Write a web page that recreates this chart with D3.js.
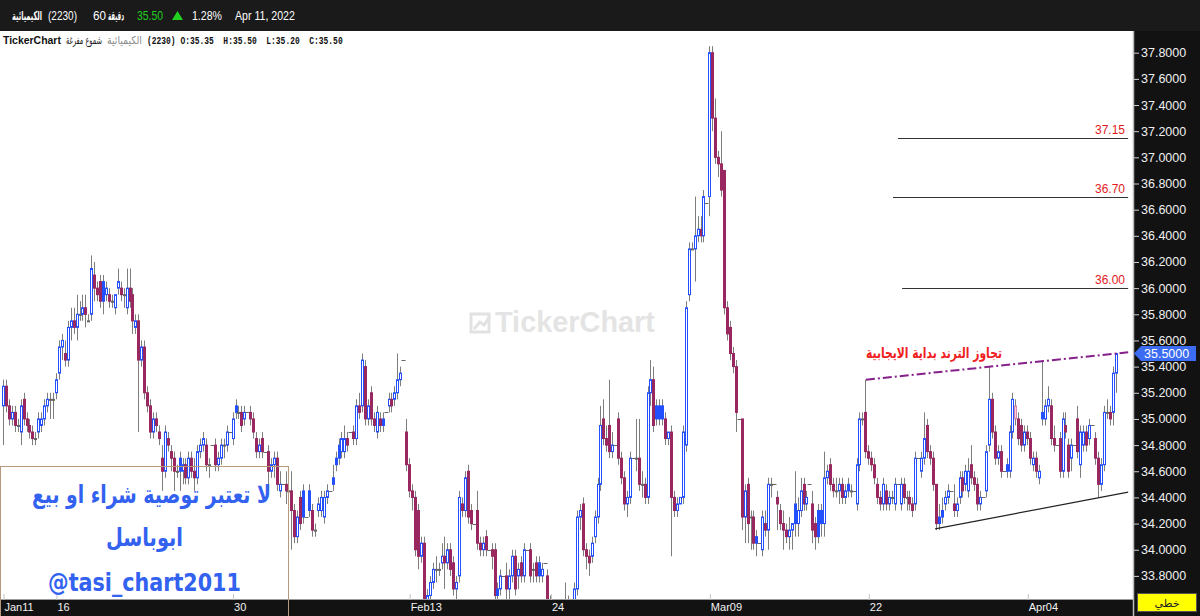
<!DOCTYPE html>
<html><head><meta charset="utf-8">
<script src="https://cdn.jsdelivr.net/npm/d3@7/dist/d3.min.js"></script>
<style>html,body{margin:0;padding:0;background:#fff;overflow:hidden}</style>
</head><body>
<svg id="c" width="1200" height="616"></svg>
<script>
// ---------------- DATA (60-minute bars, Jan 11 – Apr 11, 2022) ----------------
const opens = [
35.10,35.25,35.10,35.00,35.05,34.95, 34.90,35.15,35.00,34.95,34.90,34.85, 34.90,34.95,35.00,35.10,35.15,35.15,
35.20,35.35,35.55,35.50,35.45,35.70, 35.75,35.70,35.80,35.80,35.85,35.75, 35.80,36.10,36.00,36.05,36.05,35.95,
35.95,35.90,35.85,36.00,36.00,35.95, 35.85,36.00,35.95,35.70,35.75,35.45, 35.55,35.20,35.10,34.90,35.00,34.90,
34.70,34.60,34.85,34.75,34.70,34.60, 34.70,34.60,34.65,34.55,34.70,34.60, 34.55,34.75,34.80,34.80,34.65,34.80,
34.80,34.65,34.70,34.80,34.80,34.90, 34.85,35.10,35.05,35.05,35.00,35.05, 35.05,35.00,34.85,34.75,34.85,34.75,
34.75,34.60,34.65,34.70,34.45,34.50, 34.50,34.45,34.45,34.30,34.10,34.40, 34.45,34.25,34.45,34.30,34.15,34.30,
34.30,34.25,34.40,34.45,34.55,34.70, 34.80,34.75,34.75,34.85,34.90,34.90, 34.85,35.10,35.10,35.40,35.00,35.20,
35.00,34.90,35.00,35.00,35.05,35.10, 35.15,35.15,35.20,35.30,35.45,34.90, 34.65,34.45,34.40,34.30,33.95,34.05,
33.60,33.65,33.75,33.85,33.85,33.90, 33.95,33.90,34.00,33.90,33.70,33.80, 34.35,34.30,34.60,34.30,34.20,34.30,
34.05,34.00,34.10,34.00,34.00,34.00, 33.70,33.70,33.80,33.80,33.70,33.80, 33.95,33.80,33.90,33.80,34.00,34.00,
33.85,33.90,33.90,33.80,33.90,33.80, 33.60,33.45,33.50,33.45,33.40,33.45, 33.55,33.50,33.55,33.70,34.25,34.35,
34.00,33.95,33.95,34.10,34.25,34.50, 35.00,34.85,34.95,34.75,34.80,35.00, 34.70,34.55,34.35,34.40,34.70,34.70,
34.70,34.50,34.50,34.40,35.20,35.30, 35.10,35.10,35.10,35.00,34.85,34.90, 34.40,34.30,34.35,34.40,34.80,35.95,
36.30,36.30,36.40,36.45,36.40,36.65, 36.70,37.80,37.30,37.00,36.95,36.90, 35.85,35.70,35.50,35.40,35.00,35.00,
34.25,34.50,34.25,34.25,34.10,34.05, 34.00,34.20,34.15,34.50,34.50,34.40, 34.30,34.20,34.15,34.10,34.15,34.35,
34.20,34.30,34.50,34.35,34.50,34.35, 34.20,34.30,34.30,34.20,34.55,34.65, 34.50,34.45,34.45,34.50,34.40,34.50,
34.45,34.45,34.35,34.65,35.00,35.05, 34.75,34.70,34.65,34.50,34.40,34.35, 34.45,34.35,34.40,34.35,34.50,34.35,
34.50,34.40,34.40,34.35,34.35,34.70, 34.60,34.70,34.95,34.75,34.70,34.50, 34.25,34.30,34.35,34.40,34.45,34.35,
34.30,34.40,34.55,34.50,34.45,34.65, 34.55,34.50,34.35,34.40,34.45,34.80, 35.15,34.90,34.70,34.75,34.60,34.65,
34.60,34.90,35.00,35.00,34.95,34.80, 34.90,34.85,34.65,34.70,34.55,35.05, 35.00,35.10,35.10,34.85,34.80,34.85,
34.60,34.95,34.80,34.70,34.80,35.00, 34.65,34.80,34.90,34.85,34.95,34.85, 34.70,34.50,34.65,35.05,35.05,35.05,
35.35];
const highs = [
35.30,35.30,35.15,35.10,35.10,35.00, 35.15,35.20,35.05,35.00,34.95,34.90, 35.05,35.05,35.15,35.20,35.20,35.20,
35.35,35.60,35.65,35.60,35.75,35.85, 35.85,35.95,35.90,35.95,35.95,35.80, 36.25,36.20,36.05,36.10,36.10,36.05,
36.00,35.95,35.95,36.15,36.05,36.00, 36.15,36.15,36.00,35.80,35.80,35.60, 35.60,35.25,35.15,35.05,35.05,34.95,
34.80,34.95,34.90,34.80,34.75,34.65, 34.75,34.70,34.70,34.75,34.75,34.70, 34.80,34.85,34.90,34.85,34.70,34.80,
34.85,34.75,34.85,34.85,34.95,34.90, 35.05,35.15,35.10,35.10,35.10,35.05, 35.10,35.05,34.90,34.85,34.90,34.75,
34.80,34.70,34.75,34.75,34.60,34.50, 34.60,34.60,34.60,34.35,34.30,34.45, 34.50,34.25,34.50,34.35,34.20,34.40,
34.45,34.45,34.50,34.45,34.65,34.75, 34.85,34.90,34.95,34.90,34.90,34.95, 35.15,35.20,35.50,35.45,35.15,35.25,
35.05,35.10,35.05,35.05,35.05,35.20, 35.20,35.25,35.50,35.40,35.45,35.00, 34.70,34.50,34.45,34.35,34.10,34.10,
33.70,33.80,33.90,33.95,33.90,34.05, 34.10,34.05,34.05,33.95,33.80,34.45, 34.40,34.60,34.65,34.35,34.20,34.45,
34.10,34.10,34.15,34.00,34.05,34.05, 33.75,33.85,33.80,33.90,33.85,34.00, 34.00,33.90,33.95,34.05,34.00,34.05,
33.90,33.95,33.95,33.90,33.90,33.85, 33.65,33.55,33.60,33.55,33.50,33.75, 33.65,33.60,33.75,34.30,34.35,34.40,
34.05,34.00,34.10,34.30,34.55,35.10, 35.15,34.95,35.30,34.90,34.80,35.05, 34.75,34.60,34.45,34.75,34.70,35.00,
35.00,34.60,34.55,35.25,35.45,35.40, 35.15,35.15,35.15,35.05,34.90,34.95, 34.45,34.40,34.40,34.95,35.90,36.35,
36.35,36.70,36.55,36.55,36.75,36.65, 37.85,37.85,37.45,37.05,37.20,36.90, 35.90,35.75,35.55,35.45,35.00,35.00,
34.50,34.55,34.30,34.30,34.15,34.05, 34.30,34.30,34.55,34.55,34.50,34.45, 34.35,34.30,34.20,34.25,34.20,34.60,
34.40,34.55,34.55,34.45,34.50,34.45, 34.25,34.35,34.35,34.75,34.65,34.70, 34.55,34.55,34.55,34.55,34.50,34.55,
34.50,34.45,34.70,35.05,35.05,35.30, 34.80,34.75,34.70,34.55,34.45,34.55, 34.50,34.45,34.45,34.55,34.50,34.55,
34.55,34.45,34.45,34.40,34.75,34.70, 34.75,35.05,35.00,34.80,34.75,34.50, 34.35,34.40,34.45,34.50,34.45,34.50,
34.40,34.60,34.60,34.65,34.70,34.80, 34.60,34.55,34.45,34.40,34.80,35.40, 35.20,34.95,34.80,34.80,34.60,34.70,
34.95,35.20,35.15,35.05,35.00,34.95, 34.95,34.90,34.75,34.75,34.65,35.45, 35.15,35.25,35.15,34.95,34.80,34.90,
35.05,35.05,34.85,34.85,34.80,35.10, 34.95,34.95,34.95,35.00,34.95,34.90, 34.75,34.70,35.10,35.15,35.10,35.40,
35.50];
const lows = [
34.80,35.05,34.95,34.95,34.90,34.90, 34.80,34.95,34.90,34.85,34.80,34.80, 34.85,34.90,34.95,35.05,35.00,35.00,
35.15,35.30,35.45,35.40,35.40,35.60, 35.65,35.60,35.75,35.75,35.70,35.75, 35.75,35.90,35.90,35.85,35.80,35.90,
35.85,35.85,35.80,35.95,35.90,35.85, 35.80,35.85,35.65,35.65,34.90,35.40, 35.15,35.05,34.85,34.85,34.90,34.80,
34.45,34.55,34.75,34.60,34.45,34.55, 34.45,34.50,34.50,34.50,34.55,34.45, 34.50,34.70,34.75,34.60,34.55,34.80,
34.60,34.60,34.65,34.70,34.75,34.90, 34.80,35.00,35.00,34.90,34.95,35.05, 34.95,34.85,34.70,34.70,34.70,34.75,
34.45,34.55,34.55,34.45,34.40,34.50, 34.35,34.40,34.00,34.05,34.05,34.15, 34.20,34.25,34.25,34.10,34.10,34.25,
34.25,34.20,34.35,34.45,34.45,34.60, 34.65,34.70,34.70,34.75,34.90,34.80, 34.80,35.00,35.05,34.95,34.95,34.95,
34.90,34.85,34.90,34.90,35.05,35.05, 35.05,35.10,35.15,35.25,35.45,34.60, 34.40,34.30,33.95,33.85,33.90,33.50,
33.50,33.60,33.70,33.75,33.80,33.85, 33.70,33.85,33.80,33.65,33.60,33.75, 34.25,34.25,34.20,34.15,34.20,34.00,
33.95,33.95,33.95,34.00,33.85,33.60, 33.60,33.65,33.80,33.60,33.60,33.75, 33.65,33.70,33.75,33.75,34.00,33.75,
33.75,33.75,33.75,33.75,33.90,33.55, 33.40,33.35,33.40,33.35,33.30,33.40, 33.40,33.40,33.50,33.65,34.15,33.95,
33.85,33.80,33.90,34.05,34.20,34.45, 34.80,34.75,34.70,34.70,34.80,34.65, 34.50,34.30,34.25,34.35,34.70,34.60,
34.45,34.40,34.35,34.35,35.10,34.90, 34.95,34.95,34.95,34.80,34.80,33.95, 34.25,34.25,34.35,34.35,34.75,35.90,
36.30,36.05,36.35,36.35,36.35,36.65, 36.55,37.20,36.95,36.85,36.70,35.80, 35.60,35.45,35.35,34.90,35.00,34.15,
34.05,34.05,34.00,34.00,33.95,34.05, 33.95,34.10,34.00,34.40,34.50,34.15, 34.15,34.00,34.05,34.00,34.00,34.10,
34.10,34.25,34.30,34.30,34.50,34.05, 34.00,34.05,34.10,34.10,34.50,34.45, 34.40,34.40,34.35,34.35,34.35,34.40,
34.40,34.45,34.30,34.60,34.95,34.70, 34.65,34.60,34.50,34.35,34.30,34.30, 34.30,34.30,34.35,34.30,34.50,34.30,
34.35,34.30,34.30,34.25,34.30,34.70, 34.55,34.65,34.70,34.65,34.45,34.15, 34.15,34.20,34.30,34.35,34.45,34.25,
34.25,34.35,34.40,34.45,34.40,34.50, 34.45,34.30,34.30,34.40,34.40,34.75, 34.85,34.65,34.65,34.55,34.60,34.55,
34.55,34.85,34.95,34.80,34.75,34.75, 34.80,34.65,34.60,34.55,34.50,34.95, 34.95,35.05,34.80,34.75,34.80,34.55,
34.55,34.85,34.55,34.60,34.80,34.70, 34.55,34.75,34.75,34.80,34.95,34.65, 34.40,34.45,34.60,35.00,34.95,34.95,
35.20];
const closes = [
35.25,35.10,35.00,35.05,34.95,34.95, 35.10,35.00,34.95,34.90,34.85,34.85, 35.00,35.00,35.10,35.15,35.15,35.15,
35.30,35.55,35.60,35.45,35.70,35.75, 35.70,35.80,35.80,35.85,35.80,35.75, 36.15,36.00,35.95,35.90,35.90,36.00,
35.90,35.90,35.95,36.05,35.95,35.95, 36.00,35.90,35.75,35.75,35.45,35.55, 35.20,35.10,34.90,35.00,34.95,34.85,
34.60,34.90,34.80,34.70,34.60,34.60, 34.60,34.65,34.55,34.70,34.60,34.55, 34.75,34.80,34.85,34.65,34.65,34.80,
34.65,34.70,34.80,34.80,34.90,34.90, 35.00,35.05,35.05,34.95,35.05,35.05, 35.00,34.90,34.75,34.80,34.75,34.75,
34.60,34.65,34.70,34.50,34.50,34.50, 34.45,34.45,34.30,34.10,34.25,34.20, 34.25,34.25,34.30,34.15,34.15,34.35,
34.40,34.40,34.45,34.45,34.50,34.65, 34.70,34.85,34.85,34.80,34.90,34.85, 35.10,35.05,35.45,35.00,35.10,35.00,
34.95,35.05,34.95,34.95,35.05,35.15, 35.10,35.20,35.30,35.35,35.45,34.65, 34.45,34.40,34.00,33.95,34.05,33.60,
33.65,33.75,33.85,33.85,33.85,33.95, 33.90,34.00,33.85,33.70,33.75,34.40, 34.30,34.55,34.25,34.20,34.20,34.05,
34.00,34.05,34.00,34.00,33.95,33.65, 33.65,33.80,33.80,33.70,33.80,33.95, 33.70,33.85,33.80,34.00,34.00,33.80,
33.85,33.80,33.80,33.85,33.90,33.60, 33.45,33.50,33.45,33.40,33.45,33.55, 33.50,33.55,33.70,34.25,34.30,34.00,
33.95,33.90,34.05,34.25,34.50,34.95, 34.85,34.80,34.75,34.80,34.80,34.70, 34.55,34.35,34.40,34.70,34.70,34.70,
34.50,34.50,34.40,35.20,35.30,34.95, 35.00,35.00,35.00,34.85,34.90,34.40, 34.30,34.35,34.40,34.90,35.85,36.30,
36.30,36.40,36.45,36.40,36.70,36.65, 37.80,37.30,37.00,36.95,36.75,35.85, 35.65,35.50,35.40,35.05,35.00,34.25,
34.45,34.20,34.25,34.05,34.05,34.05, 34.25,34.15,34.50,34.50,34.50,34.35, 34.20,34.15,34.10,34.15,34.20,34.20,
34.30,34.45,34.35,34.40,34.50,34.15, 34.10,34.10,34.20,34.55,34.60,34.50, 34.45,34.45,34.50,34.40,34.45,34.45,
34.45,34.45,34.65,35.00,35.00,34.75, 34.70,34.65,34.55,34.40,34.35,34.50, 34.35,34.40,34.40,34.50,34.50,34.50,
34.40,34.40,34.35,34.30,34.70,34.70, 34.70,34.85,34.75,34.70,34.50,34.20, 34.20,34.25,34.40,34.45,34.45,34.30,
34.35,34.55,34.45,34.60,34.60,34.55, 34.50,34.35,34.40,34.40,34.75,35.15, 34.90,34.70,34.75,34.60,34.60,34.60,
34.90,35.15,35.10,34.85,34.80,34.90, 34.85,34.70,34.70,34.60,34.60,35.00, 35.10,35.15,34.85,34.80,34.80,34.60,
35.00,34.90,34.60,34.80,34.80,34.75, 34.90,34.90,34.80,34.95,34.95,34.70, 34.50,34.65,35.05,35.05,35.00,35.35,
35.50];

// x-axis tick labels (bar index of first bar of the labelled day)
const xTickIndex  = [0, 18, 78, 138, 186, 240, 294, 348];
const xTickLabels = ["Jan11", "16", "30", "Feb13", "24", "Mar09", "22", "Apr04"];
// y-axis tick values
const yTickValues = [33.8,34.0,34.2,34.4,34.6,34.8,35.0,35.2,35.4,35.6,35.8,36.0,36.2,36.4,36.6,36.8,37.0,37.2,37.4,37.6,37.8];
// horizontal target levels (price, starting bar position)
const levelPrices = [37.15, 36.70, 36.00];
const levelLabels = ["37.15", "36.70", "36.00"];
const levelFrom   = [304.1, 302.4, 305.5];
const levelTo     = 382.3;
// trend lines: [barPos, price] end points
const resistLine = [[293.2, 35.30], [382.3, 35.51]];
const supportLine = [[316.7, 34.16], [382.3, 34.44]];
const lastPrice = 35.50;

// ---------------- DRAWING ----------------
const svg = d3.select("#c");
const W = 1200, H = 616;
const plotRight = 1133, plotTop = 31, plotBottom = 599;

const x = d3.scaleLinear().domain([0, 378]).range([3, 1115.5]);
const y = d3.scaleLinear().domain([33.8, 37.8]).range([575.9, 52.7]);

const ar = "'DejaVu Sans', 'Noto Sans', sans-serif";
const lat = "'Liberation Sans', Arial, sans-serif";

// scale font so text width matches target
function fit(sel, w) {
  const cur = sel.node().getComputedTextLength();
  if (cur > 0) sel.attr("font-size", parseFloat(sel.attr("font-size")) * w / cur);
  return sel;
}
// text whose height is kept and whose width is scaled horizontally to w (via a transform)
function label(parent, x0, y0, w, txt, attrs) {
  const g = parent.append("g");
  const t = g.append("text").attr("x", 0).attr("y", 0).text(txt);
  Object.entries(attrs).forEach(([k, v]) => t.attr(k, v));
  const cur = t.node().getComputedTextLength();
  const sx = cur > 0 ? w / cur : 1;
  g.attr("transform", `translate(${x0},${y0}) scale(${sx},1)`);
  return t;
}

svg.append("rect").attr("width", W).attr("height", H).attr("fill", "#fff");

const defs = svg.append("defs");
defs.append("clipPath").attr("id", "plotclip").append("rect")
  .attr("x", 0).attr("y", plotTop).attr("width", plotRight).attr("height", plotBottom - plotTop);

// watermark
const wm = svg.append("g").attr("fill", "#e4e4e4");
wm.append("rect").attr("x", 471).attr("y", 314).attr("width", 18).attr("height", 18)
  .attr("fill", "none").attr("stroke", "#e2e2e2").attr("stroke-width", 3);
wm.append("path").attr("d", "M474,329 L480,322 L484,325 L490,316").attr("fill", "none")
  .attr("stroke", "#e2e2e2").attr("stroke-width", 3);
fit(wm.append("text").attr("x", 495).attr("y", 332).attr("font-family", lat).attr("font-weight", "bold")
  .attr("font-size", 22).text("TickerChart"), 160);

// level lines
const lv = svg.append("g");
levelPrices.forEach((p, i) => {
  lv.append("line").attr("x1", x(levelFrom[i])).attr("x2", x(levelTo))
    .attr("y1", Math.round(y(p)) + 0.5).attr("y2", Math.round(y(p)) + 0.5)
    .attr("stroke", "#333").attr("stroke-width", 1);
  lv.append("text").attr("x", 1125).attr("y", y(p) - 4).attr("text-anchor", "end")
    .attr("font-family", lat).attr("font-size", 12).attr("fill", "#e3191c").text(levelLabels[i]);
});

// candles
const bars = d3.range(opens.length).map(i => ({
  i, o: opens[i], h: highs[i], l: lows[i], c: closes[i], p: i > 0 ? closes[i - 1] : opens[i]
}));
const BLUE = "#2350ff", MAROON = "#98285f", WICK = "#7d7d7d";
const cg = svg.append("g").attr("clip-path", "url(#plotclip)");
bars.forEach(b => {
  const cx = Math.round(x(b.i));
  if (b.h === b.l) {
    cg.append("line").attr("x1", cx - 1.5).attr("x2", cx + 2.5)
      .attr("y1", Math.round(y(b.c)) + 0.5).attr("y2", Math.round(y(b.c)) + 0.5)
      .attr("stroke", "#666").attr("stroke-width", 1);
    return;
  }
  cg.append("line").attr("x1", cx + 0.5).attr("x2", cx + 0.5)
    .attr("y1", y(b.h)).attr("y2", y(b.l)).attr("stroke", WICK).attr("stroke-width", 1);
  const top = y(Math.max(b.o, b.c)), bot = y(Math.min(b.o, b.c));
  const hgt = Math.max(1, bot - top);
  let fill, stroke;
  if (b.c >= b.o) {
    if (b.c >= b.p) { fill = "#fff"; stroke = BLUE; }
    else { fill = "#f3c9dc"; stroke = "#d58aae"; }
  } else {
    if (b.c < b.p) { fill = MAROON; stroke = MAROON; }
    else { fill = BLUE; stroke = BLUE; }
  }
  if (b.c === b.o) { fill = "#666"; stroke = "#666"; }
  cg.append("rect").attr("x", cx - 0.5).attr("y", top).attr("width", 2).attr("height", hgt)
    .attr("fill", fill).attr("stroke", stroke).attr("stroke-width", 1);
});

// trend lines
const lineGen = d3.line().x(d => x(d[0])).y(d => y(d[1]));
svg.append("path").attr("d", lineGen(resistLine)).attr("fill", "none")
  .attr("stroke", "#86208a").attr("stroke-width", 2).attr("stroke-dasharray", "9,3,2,3");
svg.append("path").attr("d", lineGen(supportLine)).attr("fill", "none")
  .attr("stroke", "#222").attr("stroke-width", 1.2);

// red annotation
label(svg, 866, 358, 136, "تجاوز الترند بداية الايجابية",
  {"font-family": ar, "font-size": 15, "font-weight": "bold", fill: "#f0201e"});

// x-axis band
svg.append("rect").attr("x", 0).attr("y", 600).attr("width", plotRight).attr("height", 16).attr("fill", "#121212");
svg.append("line").attr("x1", 0).attr("x2", plotRight).attr("y1", 599.5).attr("y2", 599.5).attr("stroke", "#9a9a9a");
const xAxis = d3.axisBottom(x).tickValues(xTickIndex).tickFormat((d, i) => xTickLabels[i])
  .tickSizeInner(-6).tickSizeOuter(0).tickPadding(3);
const xg = svg.append("g").attr("transform", "translate(0,600)").call(xAxis);
xg.select(".domain").remove();
xg.selectAll(".tick line").attr("stroke", "#c4c4c4").attr("transform", "translate(0.5,0)");
xg.selectAll(".tick text").attr("fill", "#f2f2f2").attr("font-family", lat).attr("font-size", 11)
  .attr("text-anchor", "start").attr("x", 1).attr("dy", "0.72em");

// disclaimer box
const bx = svg.append("g");
bx.append("rect").attr("x", 0.5).attr("y", 466.5).attr("width", 288).attr("height", 152)
  .attr("fill", "none").attr("stroke", "#b8987a").attr("stroke-width", 1);
const boxStyle = {"font-family": ar, "font-weight": "bold", "font-size": 25, fill: "#3262ef"};
label(bx, 32, 503, 239, "لا تعتبر توصية شراء او بيع", boxStyle);
label(bx, 106, 546, 77, "ابوباسل", boxStyle);
label(bx, 48, 591, 193, "@tasi_chart2011", boxStyle);

// right price axis panel
svg.append("rect").attr("x", plotRight).attr("y", plotTop).attr("width", W - plotRight).attr("height", H - plotTop).attr("fill", "#121212");
svg.append("line").attr("x1", plotRight + 0.5).attr("x2", plotRight + 0.5).attr("y1", plotTop).attr("y2", H)
  .attr("stroke", "#bdbdbd").attr("stroke-width", 1.5);
const yAxis = d3.axisRight(y).tickValues(yTickValues).tickFormat(d3.format(".4f")).tickSizeInner(5).tickSizeOuter(0).tickPadding(2);
const yg = svg.append("g").attr("transform", `translate(${plotRight + 1},0)`).call(yAxis);
yg.select(".domain").remove();
yg.selectAll(".tick line").attr("stroke", "#d0d0d0");
yg.selectAll(".tick text").attr("fill", "#f0f0f0").attr("font-family", lat).attr("font-size", 12.5);

// last price tag
const ty = y(lastPrice);
svg.append("path").attr("d", `M${plotRight + 1},${ty} L${plotRight + 8},${ty - 7.5} L1196,${ty - 7.5} L1196,${ty + 7.5} L${plotRight + 8},${ty + 7.5} Z`)
  .attr("fill", "#3b6cf2");
svg.append("text").attr("x", 1144).attr("y", ty + 4.5).attr("font-family", lat).attr("font-size", 12.5)
  .attr("fill", "#fff").text(d3.format(".4f")(lastPrice));

// chart-type badge
svg.append("rect").attr("x", 1137.5).attr("y", 593.5).attr("width", 59).attr("height", 18)
  .attr("fill", "#ffff00").attr("stroke", "#555");
svg.append("text").attr("x", 1167).attr("y", 607).attr("text-anchor", "middle").attr("font-family", ar)
  .attr("font-size", 11).attr("fill", "#222").text("خطي");

// header bar
svg.append("rect").attr("x", 0).attr("y", 0).attr("width", W).attr("height", 31).attr("fill", "#1a1a1a");
const hd = svg.append("g");
const hdAr = {"font-family": ar, "font-weight": "bold", "font-size": 12.5, fill: "#fff"};
const hdLat = {"font-family": lat, "font-size": 12.5, fill: "#fff"};
label(hd, 12, 20, 30, "الكيميائية", hdAr);
label(hd, 48, 20, 29, "(2230)", hdLat);
label(hd, 93, 20, 13, "60", hdLat);
label(hd, 108, 20, 16, "دقيقة", hdAr);
label(hd, 137, 20, 26, "35.50", Object.assign({}, hdLat, {fill: "#22d022"}));
hd.append("path").attr("d", "M172,20 L177.5,11 L183,20 Z").attr("fill", "#22d022");
label(hd, 192, 20, 30, "1.28%", hdLat);
label(hd, 235, 20, 60, "Apr 11, 2022", hdLat);

// title row
label(svg, 3, 44, 58, "TickerChart", {"font-family": lat, "font-weight": "bold", "font-size": 11, fill: "#111"});
label(svg, 66, 44, 36, "شموع مفرغة", {"font-family": ar, "font-size": 11, fill: "#222"});
label(svg, 107, 44, 35, "الكيميائية", {"font-family": ar, "font-size": 11, fill: "#8a8a8a"});
label(svg, 147, 44, 196, "(2230) O:35.35  H:35.50  L:35.20  C:35.50",
  {"font-family": "'Liberation Mono', 'DejaVu Sans Mono', monospace", "font-size": 11.5, "font-weight": "bold",
   fill: "#111", "xml:space": "preserve"}).style("white-space", "pre");
</script>
</body></html>
